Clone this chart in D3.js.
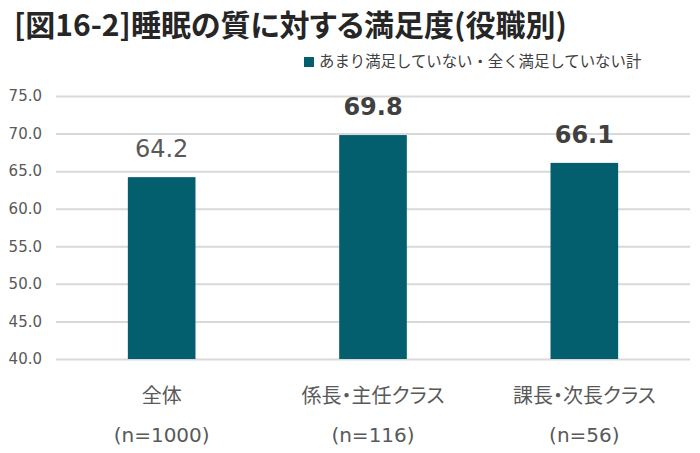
<!DOCTYPE html>
<html><head><meta charset="utf-8">
<script src="https://cdn.jsdelivr.net/npm/d3@7"></script>
<style>body{margin:0;background:#fff;}svg{display:block;font-family:"Noto Sans CJK JP","Noto Sans",sans-serif;}.palt{font-feature-settings:"palt";}</style>
</head><body><svg id="c" width="700" height="453"></svg>
<script>
const categories = ["全体", "係長・主任クラス", "課長・次長クラス"];
const sampleSizes = ["(n=1000)", "(n=116)", "(n=56)"];
const values = [64.2, 69.8, 66.1];
const boldLabel = [false, true, true];
const yTicks = [40, 45, 50, 55, 60, 65, 70, 75];
const seriesName = "あまり満足していない・全く満足していない計";
const title = "[図16-2]睡眠の質に対する満足度(役職別)";

const svg = d3.select("#c");
const m = {left:56, right:10, top:96, bottom:94};
const W = 700, H = 453;
const x = d3.scaleBand().domain(categories).range([m.left, W - m.right]).paddingInner(0.68).paddingOuter(0.34);
const y = d3.scaleLinear().domain([40, 75]).range([H - m.bottom, m.top]);

svg.append("text").attr("x", 14).attr("y", 36).attr("font-size", 30).attr("font-weight", "bold").attr("fill", "#262626").attr("class", "palt").text(title);

// legend
svg.append("rect").attr("x", 304).attr("y", 57).attr("width", 10).attr("height", 10).attr("fill", "#035E6E");
svg.append("text").attr("x", 319).attr("y", 67).attr("font-size", 15.4).attr("fill", "#404040").text(seriesName);

// grid
const grid = svg.append("g").attr("transform", `translate(${m.left},0)`)
  .call(d3.axisLeft(y).tickValues(yTicks).tickSize(-(W - m.left - m.right)).tickFormat(d3.format(".1f")).tickPadding(14));
grid.select(".domain").remove();
grid.selectAll(".tick line").attr("stroke", "#d9d9d9").attr("stroke-width", 2);
grid.selectAll(".tick text").attr("font-size", 15).attr("fill", "#595959").attr("font-family", "Verdana, 'DejaVu Sans', sans-serif").attr("x", -14);

svg.selectAll("rect.bar").data(values).join("rect").attr("class", "bar")
  .attr("x", (d, i) => x(categories[i])).attr("width", x.bandwidth())
  .attr("y", d => y(d)).attr("height", d => y(40) - y(d)).attr("fill", "#035E6E");

svg.selectAll("text.val").data(values).join("text").attr("class", "val")
  .attr("x", (d, i) => x(categories[i]) + x.bandwidth() / 2)
  .attr("y", d => y(d) - 20)
  .attr("text-anchor", "middle").attr("font-size", 24)
  .attr("font-family", "Verdana, 'DejaVu Sans', sans-serif")
  .attr("font-weight", (d, i) => boldLabel[i] ? "bold" : "normal")
  .attr("fill", (d, i) => boldLabel[i] ? "#404040" : "#595959")
  .text(d => d.toFixed(1));

svg.selectAll("text.cat").data(categories).join("text").attr("class", "cat palt")
  .attr("x", d => x(d) + x.bandwidth() / 2).attr("y", 403)
  .attr("text-anchor", "middle").attr("font-size", 20).attr("fill", "#595959").text(d => d);
svg.selectAll("text.n").data(sampleSizes).join("text").attr("class", "n")
  .attr("x", (d, i) => x(categories[i]) + x.bandwidth() / 2).attr("y", 442)
  .attr("text-anchor", "middle").attr("font-size", 20)
  .attr("font-family", "Verdana, 'DejaVu Sans', sans-serif")
  .attr("fill", "#595959").text(d => d);
</script></body></html>
